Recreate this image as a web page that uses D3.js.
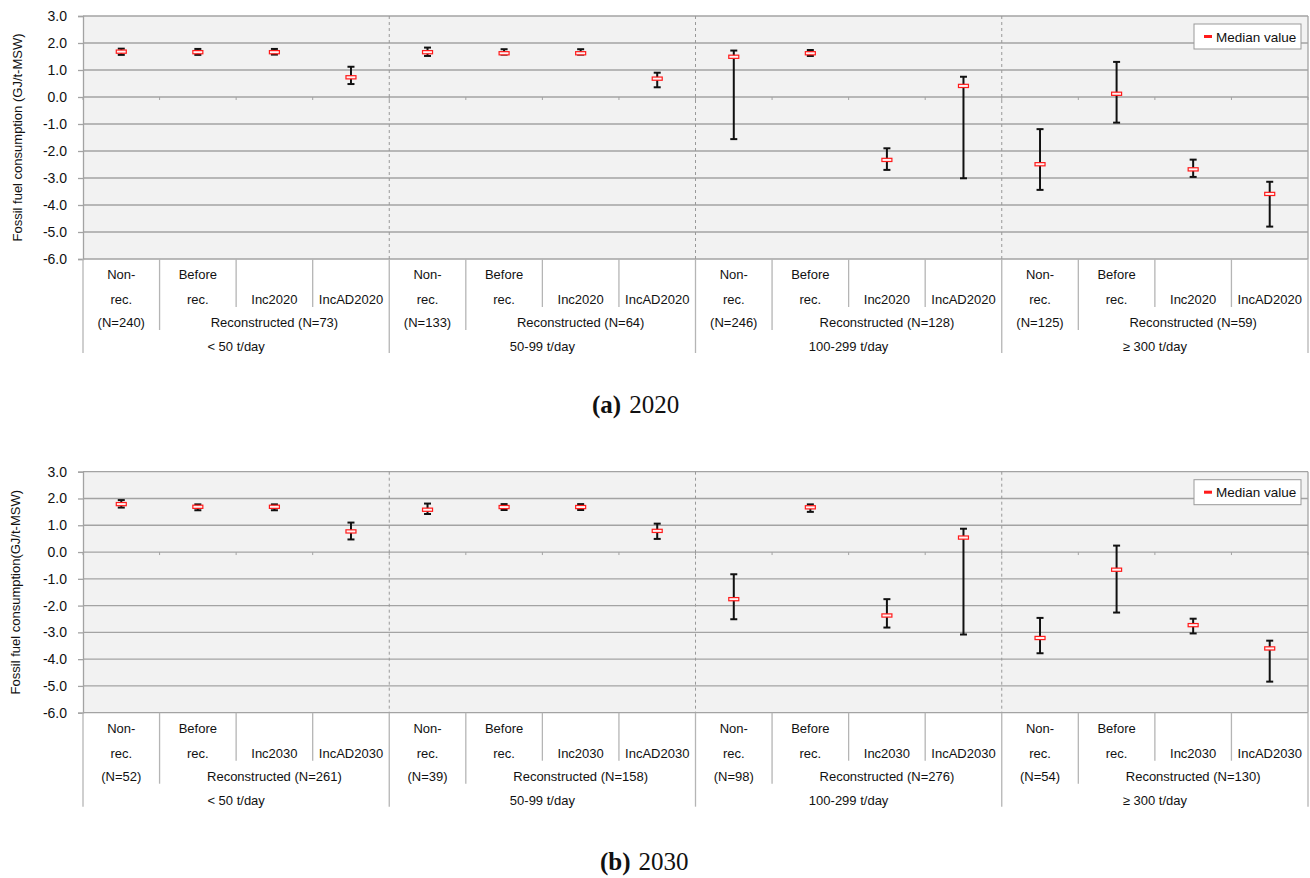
<!DOCTYPE html>
<meta charset="utf-8">
<script src="https://d3js.org/d3.v7.min.js"></script>
<style>
    body { margin: 0; background: #fff; }
    text { font-family: "Liberation Sans", Arial, sans-serif; fill: #111; }
</style>
<div id="vis"></div>
<script>

    // categories and groups
    var groups = ["< 50 t/day", "50-99 t/day", "100-299 t/day", "\u2265 300 t/day"];
    var yTicks = [-6, -5, -4, -3, -2, -1, 0, 1, 2, 3];

    // 2020 panel
    var n2020 = [[240, 73], [133, 64], [246, 128], [125, 59]];
    var med2020 = [1.68, 1.66, 1.66, 0.73, 1.66, 1.62, 1.62, 0.68, 1.49, 1.62, -2.33, 0.41, -2.49, 0.12, -2.68, -3.59];
    var lo2020 = [1.56, 1.56, 1.57, 0.48, 1.52, 1.57, 1.57, 0.36, -1.56, 1.52, -2.70, -3.01, -3.44, -0.95, -2.96, -4.80];
    var hi2020 = [1.79, 1.78, 1.78, 1.12, 1.83, 1.77, 1.77, 0.90, 1.72, 1.74, -1.90, 0.75, -1.19, 1.30, -2.32, -3.14];

    // 2030 panel
    var n2030 = [[52, 261], [39, 158], [98, 276], [54, 130]];
    var med2030 = [1.79, 1.69, 1.69, 0.77, 1.58, 1.68, 1.68, 0.79, -1.76, 1.67, -2.37, 0.54, -3.21, -0.66, -2.73, -3.60];
    var lo2030 = [1.66, 1.56, 1.56, 0.47, 1.42, 1.57, 1.57, 0.49, -2.51, 1.50, -2.82, -3.08, -3.78, -2.26, -3.04, -4.84];
    var hi2030 = [1.94, 1.78, 1.78, 1.10, 1.81, 1.79, 1.79, 1.06, -0.83, 1.78, -1.76, 0.87, -2.46, 0.24, -2.49, -3.31];

    var W = 1310, H = 878;
    var left = 83, right = 1308;
    var gridColor = "#a3a3a3";

    var svg = d3.select("#vis").append("svg")
        .attr("width", W)
        .attr("height", H);

    function drawPanel(p) {
        var top = p.top, bottom = p.top + p.height;
        var g = svg.append("g");

        var x = d3.scaleBand().domain(d3.range(16)).range([left, right]);
        var y = d3.scaleLinear().domain([-6, 3]).range([bottom, top]);
        var step = x.step();

        // plot background
        g.append("rect")
            .attr("x", left).attr("y", top)
            .attr("width", right - left).attr("height", bottom - top)
            .style("fill", "#f2f2f2");

        // horizontal grid lines
        g.selectAll(".grid")
            .data(yTicks)
            .enter().append("line")
            .attr("x1", left).attr("x2", right)
            .attr("y1", function (d) { return y(d) })
            .attr("y2", function (d) { return y(d) })
            .style("stroke", gridColor)
            .style("stroke-width", 1.3);

        // little ticks under the zero line
        g.selectAll(".ztick")
            .data(d3.range(17))
            .enter().append("line")
            .attr("x1", function (d) { return left + d * step })
            .attr("x2", function (d) { return left + d * step })
            .attr("y1", y(0)).attr("y2", y(0) + 3)
            .style("stroke", gridColor)
            .style("stroke-width", 1);

        // dashed group separators
        g.selectAll(".dash")
            .data([4, 8, 12])
            .enter().append("line")
            .attr("x1", function (d) { return left + d * step })
            .attr("x2", function (d) { return left + d * step })
            .attr("y1", top).attr("y2", bottom)
            .style("stroke", "#999")
            .style("stroke-dasharray", "3,3")
            .style("stroke-width", 1);

        // right border
        g.append("line")
            .attr("x1", right).attr("x2", right)
            .attr("y1", top).attr("y2", bottom)
            .style("stroke", gridColor).style("stroke-width", 1.3);

        // y axis
        var ax = g.append("g")
            .attr("transform", "translate(" + left + ",0)")
            .call(d3.axisLeft(y).tickValues(yTicks).tickSize(5).tickPadding(11)
                .tickFormat(function (d) { return d.toFixed(1) }));
        ax.select(".domain").style("stroke", gridColor).style("stroke-width", 1.3);
        ax.selectAll(".tick line").style("stroke", gridColor).style("stroke-width", 1.3);
        ax.selectAll("text")
            .style("font-size", "14px")
            .style("font-family", "'Liberation Sans', Arial, sans-serif")
            .style("fill", "#111");

        // y axis title
        g.append("text")
            .attr("transform", "translate(" + p.titleX + "," + ((top + bottom) / 2) + ") rotate(-90)")
            .attr("text-anchor", "middle")
            .style("font-size", "13px")
            .text(p.yTitle);

        // error bars
        var bars = g.selectAll(".bar")
            .data(d3.range(16))
            .enter().append("g");
        bars.append("line")
            .attr("x1", function (i) { return x(i) + step / 2 })
            .attr("x2", function (i) { return x(i) + step / 2 })
            .attr("y1", function (i) { return y(p.hi[i]) })
            .attr("y2", function (i) { return y(p.lo[i]) })
            .style("stroke", "#111").style("stroke-width", 2);
        [p.hi, p.lo].forEach(function (arr) {
            bars.append("line")
                .attr("x1", function (i) { return x(i) + step / 2 - 3.5 })
                .attr("x2", function (i) { return x(i) + step / 2 + 3.5 })
                .attr("y1", function (i) { return y(arr[i]) })
                .attr("y2", function (i) { return y(arr[i]) })
                .style("stroke", "#111").style("stroke-width", 2);
        });
        // median markers
        bars.append("rect")
            .attr("x", function (i) { return x(i) + step / 2 - 5 })
            .attr("y", function (i) { return y(p.med[i]) - 1.6 })
            .attr("width", 10).attr("height", 3.2)
            .style("fill", "#fff2f2")
            .style("stroke", "#ff1a1a")
            .style("stroke-width", 1.2);

        // legend
        var lg = g.append("g").attr("transform", "translate(1194," + (top + 8) + ")");
        lg.append("rect")
            .attr("width", 107).attr("height", 25)
            .style("fill", "#fff").style("stroke", "#999").style("stroke-width", 1);
        lg.append("rect")
            .attr("x", 10).attr("y", 11).attr("width", 8).attr("height", 3)
            .style("fill", "#ff1a1a");
        lg.append("text")
            .attr("x", 22).attr("y", 17.5)
            .style("font-size", "13.5px")
            .text("Median value");

        // category table below the plot
        var rowY = [bottom + 20, bottom + 45, bottom + 68, bottom + 92];
        var tableColor = "#b5b5b5";
        var sep = [];
        d3.range(17).forEach(function (k) {
            var len = (k % 4 == 0) ? 94 : (k % 4 == 1 ? 71 : 48);
            sep.push({ x: left + k * step, len: len });
        });
        g.selectAll(".sep")
            .data(sep)
            .enter().append("line")
            .attr("x1", function (d) { return d.x }).attr("x2", function (d) { return d.x })
            .attr("y1", bottom).attr("y2", function (d) { return bottom + d.len })
            .style("stroke", tableColor).style("stroke-width", 1.3);

        var labels = [];
        groups.forEach(function (grp, gi) {
            var gx = left + gi * 4 * step;
            labels.push({ x: gx + step / 2, r: 0, t: "Non-" });
            labels.push({ x: gx + step / 2, r: 1, t: "rec." });
            labels.push({ x: gx + step * 1.5, r: 0, t: "Before" });
            labels.push({ x: gx + step * 1.5, r: 1, t: "rec." });
            labels.push({ x: gx + step * 2.5, r: 1, t: p.inc });
            labels.push({ x: gx + step * 3.5, r: 1, t: p.incAD });
            labels.push({ x: gx + step / 2, r: 2, t: "(N=" + p.n[gi][0] + ")" });
            labels.push({ x: gx + step * 2.5, r: 2, t: "Reconstructed (N=" + p.n[gi][1] + ")" });
            labels.push({ x: gx + step * 2, r: 3, t: grp });
        });
        g.selectAll(".lab")
            .data(labels)
            .enter().append("text")
            .attr("x", function (d) { return d.x })
            .attr("y", function (d) { return rowY[d.r] })
            .attr("text-anchor", "middle")
            .style("font-size", "13px")
            .text(function (d) { return d.t });

        // caption
        var cap = g.append("text")
            .attr("x", p.capX).attr("y", p.capY)
            .style("font-family", "'Liberation Serif', 'Times New Roman', serif")
            .style("font-size", "25px");
        cap.append("tspan").style("font-weight", "bold")
            .style("font-family", "'Liberation Serif', 'Times New Roman', serif")
            .text("(" + p.letter + ")");
        cap.append("tspan").attr("dx", 8)
            .style("font-family", "'Liberation Serif', 'Times New Roman', serif")
            .text(p.year);
    }

    drawPanel({
        top: 16, height: 243, med: med2020, lo: lo2020, hi: hi2020, n: n2020,
        inc: "Inc2020", incAD: "IncAD2020", letter: "a", year: "2020",
        yTitle: "Fossil fuel consumption (GJ/t-MSW)", titleX: 22, capX: 592, capY: 413
    });
    drawPanel({
        top: 471.7, height: 241, med: med2030, lo: lo2030, hi: hi2030, n: n2030,
        inc: "Inc2030", incAD: "IncAD2030", letter: "b", year: "2030",
        yTitle: "Fossil fuel consumption(GJ/t-MSW)", titleX: 20, capX: 600, capY: 870
    });

</script>
